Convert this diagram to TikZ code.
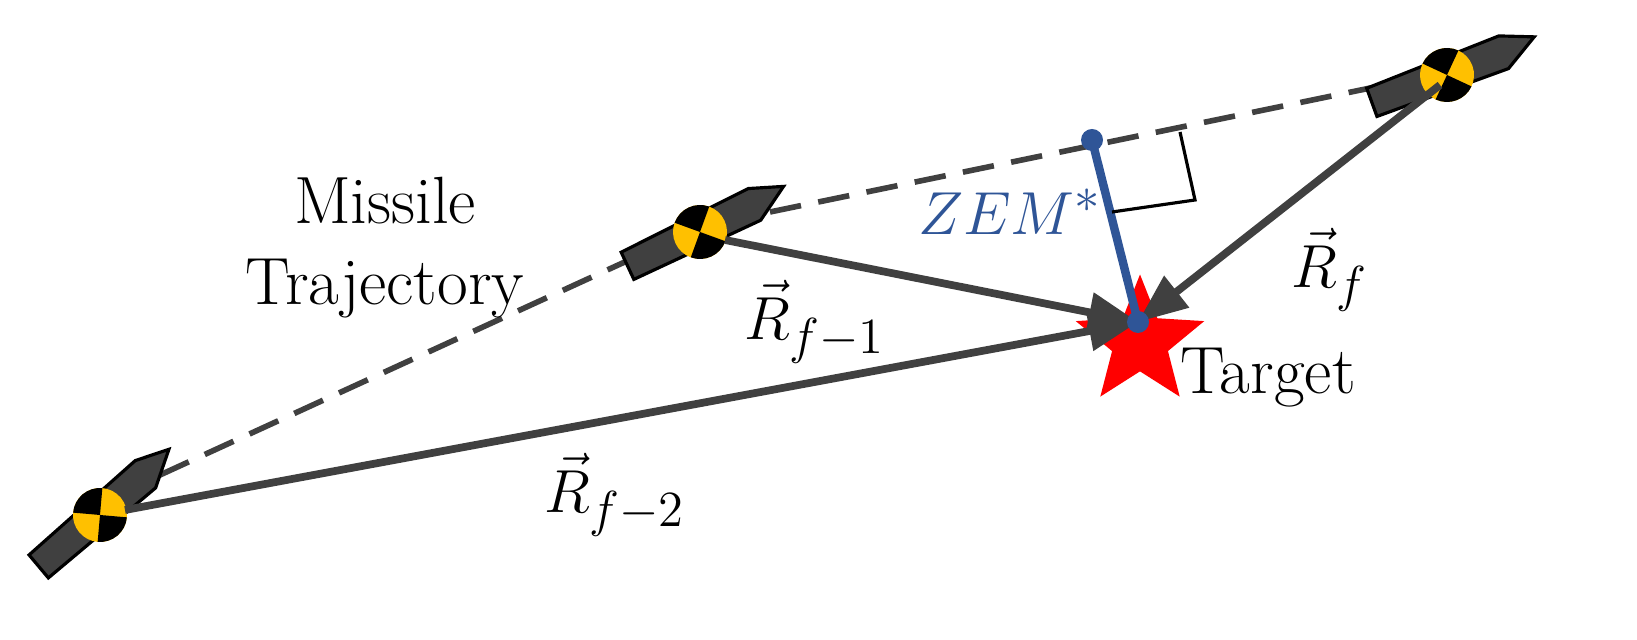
\documentclass[tikz,border=0pt]{standalone}
\usepackage{amsmath}
\usepackage{xcolor}
\usepackage{tikz}
\usetikzlibrary{arrows.meta, positioning, shapes.geometric}

\definecolor{rod}{HTML}{404040}
\definecolor{zemblue}{HTML}{2F5597}
\definecolor{badge}{HTML}{FFC000}

\tikzset{
  missile/.pic={
    \draw[black, fill=rod, line width=0.9pt]
      (-80,-15) -- (60,-15) -- (95,6) -- (62,19) -- (-80,15) -- cycle;
    \fill[badge] (0,0) circle (27);
    \fill[black] (0,0) -- (45:27) arc (45:135:27) -- cycle;
    \fill[black] (0,0) -- (225:27) arc (225:315:27) -- cycle;
  }
}

\begin{document}
\begin{tikzpicture}[
  x=0.01cm, y=0.01cm,
  vec/.style={-{Triangle[length=14pt,width=11pt]}, rod, line width=2.2pt},
  traj/.style={rod, dashed, line width=1.6pt, dash pattern=on 9pt off 5pt},
  lbl/.style={font=\fontsize{19}{23}\selectfont}
]
  \useasboundingbox (0,0) rectangle (1637,640);

  % target
  \node[star, star points=5, star point ratio=2.3, minimum size=1.35cm,
        fill=red, inner sep=0pt] (star) at (1140,298) {};
  \coordinate (tgt) at (1138,318);

  % trajectory
  \coordinate (t1) at (160,165);
  \coordinate (t2) at (640,385);
  \coordinate (t3) at (770,428);
  \coordinate (t4) at (1385,555);
  \draw[traj] (t1) -- (t2);
  \draw[traj] (t3) -- (t4);

  % missiles
  \pic[rotate=40] (m3) at (100,125) {missile};
  \pic[rotate=25] (m2) at (700,408) {missile};
  \pic[rotate=20] (m1) at (1447,565) {missile};
  \coordinate (c3) at (125,130);
  \coordinate (c2) at (725,400);
  \coordinate (c1) at (1440,555);

  % range vectors
  \draw[vec] (c3) -- (tgt);
  \draw[vec] (c2) -- (tgt);
  \draw[vec] (c1) -- (tgt);

  % zero effort miss
  \coordinate (zt) at (1092,500);
  \draw[zemblue, line width=2.4pt] (zt) -- (tgt);
  \fill[zemblue] (zt) circle (11) (tgt) circle (11);
  \coordinate (ra) at (1180,508);
  \coordinate (rb) at (1195,440);
  \coordinate (rc) at (1112,428);
  \draw[black, line width=0.9pt] (ra) -- (rb) -- (rc);

  % labels
  \node[lbl, align=center] (traj) at (385,392) {Missile\\Trajectory};
  \node[lbl] (rf1) at (815,318) {$\vec{R}_{f-1}$};
  \node[lbl] (rf2) at (615,145) {$\vec{R}_{f-2}$};
  \node[lbl] (rf) at (1330,370) {$\vec{R}_{f}$};
  \node[lbl, text=zemblue] (zem) at (1010,428) {$ZEM^{*}$};
  \node[lbl] (tname) at (1268,262) {Target};
\end{tikzpicture}
\end{document}
